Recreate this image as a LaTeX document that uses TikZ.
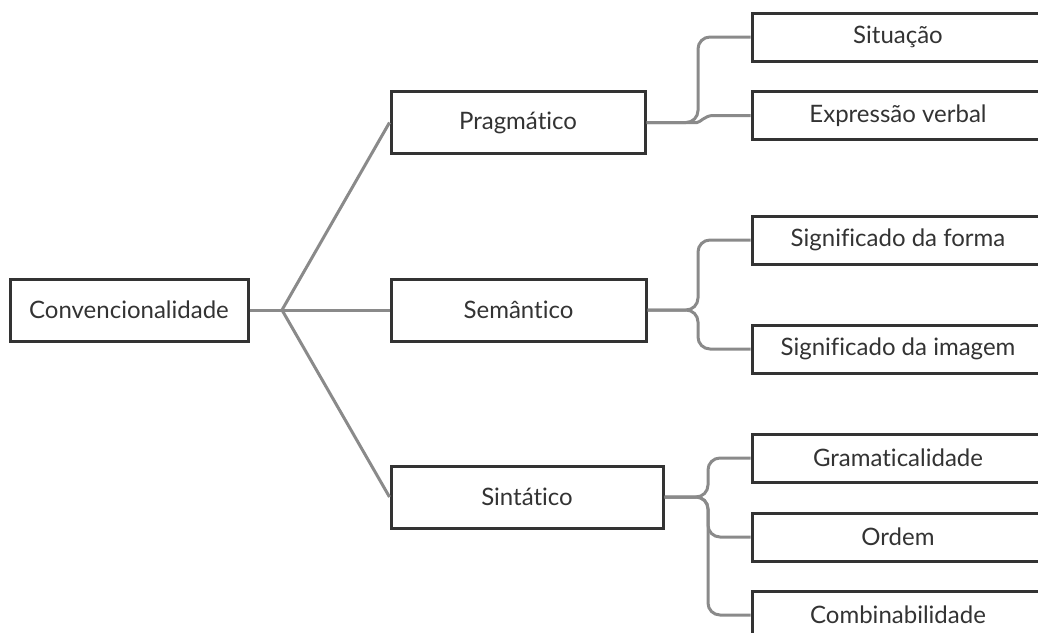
\documentclass[tikz,border=0pt]{standalone}
\usepackage{fontspec}
\setmainfont{Lato}[Ligatures=NoCommon]
\usepackage{tikz}
\usetikzlibrary{calc}
\usetikzlibrary{positioning}

\definecolor{boxline}{HTML}{333333}
\definecolor{linkline}{HTML}{8A8A8A}

\begin{document}
\begin{tikzpicture}[x=0.5pt, y=-0.5pt,
    topicbox/.style={rectangle, draw=boxline, line width=1.5pt, text=boxline, inner sep=0pt, minimum height=31pt, font=\fontsize{12}{14}\selectfont},
    leafbox/.style={topicbox, minimum width=146pt, minimum height=24pt},
    link/.style={draw=linkline, line width=1.5pt, rounded corners=6pt}]
    \useasboundingbox (0,0) rectangle (1038,632);
    \clip (0,0) rectangle (1038,632);

    % root and middle level
    \node [topicbox, minimum width=119pt] (conv) at (129, 310) {Convencionalidade};
    \node [topicbox, minimum width=127pt] (prag) at (518, 122.5) {Pragmático};
    \node [topicbox, minimum width=127.5pt] (sem) at (518.5, 310) {Semântico};
    \node [topicbox, minimum width=136pt] (sint) at (527, 497) {Sintático};

    % leaves (cut by the right and bottom edge)
    \node [leafbox] (sit) at (898, 37) {Situação};
    \node [leafbox] (expr) at (898, 115.5) {Expressão verbal};
    \node [leafbox] (forma) at (898, 240) {Significado da forma};
    \node [leafbox] (imagem) at (898, 349) {Significado da imagem};
    \node [leafbox] (gram) at (898, 458) {Gramaticalidade};
    \node [leafbox] (ordem) at (898, 537) {Ordem};
    \node [leafbox] (comb) at (898, 615) {Combinabilidade};

    \coordinate (fan) at (282, 310);
    \draw [link, rounded corners=0pt] (conv.east) -- (fan) -- (sem.west);
    \draw [link, rounded corners=0pt] (fan) -- (prag.west);
    \draw [link, rounded corners=0pt] (fan) -- (sint.west);

    \draw [link] (prag.east) -- (698, 122.5) |- (sit.west);
    \draw [link] (prag.east) -- (685, 122.5) .. controls (700, 122.5) and (705, 115.5) .. (725, 115.5) -- (expr.west);

    \draw [link] (sem.east) -- (698, 310) |- (forma.west);
    \draw [link] (sem.east) -- (698, 310) |- (imagem.west);

    \draw [link] (sint.east) -- (708, 497) |- (gram.west);
    \draw [link] (sint.east) -- (708, 497) |- (ordem.west);
    \draw [link] (sint.east) -- (708, 497) |- (comb.west);
\end{tikzpicture}
\end{document}
